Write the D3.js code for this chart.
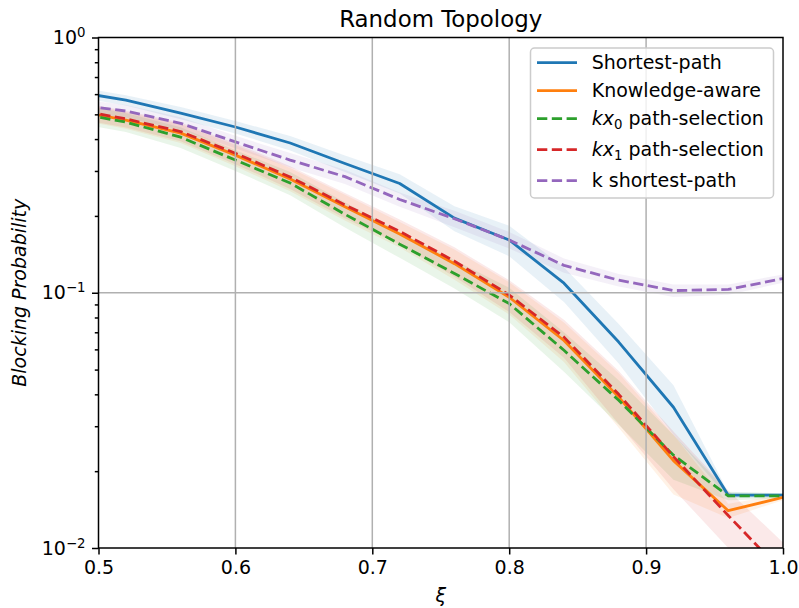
<!DOCTYPE html>
<html>
<meta charset="utf-8">
<head>
  <style>
    body { margin: 0; background: #fff; }
    text { font-family: "DejaVu Sans", sans-serif; fill: #000; }
  </style>
  <script src="https://d3js.org/d3.v7.min.js"></script>
</head>
<body>
<svg id="chart" width="799" height="608"></svg>
<script>
  // x values (xi) -- first point sits left of the axis and gets clipped
  var xi = [0.48, 0.52, 0.56, 0.60, 0.64, 0.68, 0.72, 0.76, 0.80, 0.84, 0.88, 0.92, 0.96, 1.00];

  var shortestPath    = [0.617, 0.568, 0.506, 0.446, 0.386, 0.321, 0.268, 0.196, 0.161, 0.109, 0.0641, 0.0356, 0.0161, 0.0161];
  var shortestPathStd = [0.028, 0.026, 0.028, 0.025, 0.025, 0.024, 0.023, 0.022, 0.022, 0.017, 0.0113, 0.0078, 0.0004, 0.0003];

  var knowledgeAware    = [0.520, 0.475, 0.422, 0.346, 0.279, 0.217, 0.170, 0.130, 0.096, 0.065, 0.039, 0.022, 0.0140, 0.0158];
  var knowledgeAwareStd = [0.039, 0.036, 0.036, 0.033, 0.029, 0.025, 0.0195, 0.0176, 0.0139, 0.0114, 0.0094, 0.0058, 0.0009, 0.0004];

  var kx0    = [0.510, 0.466, 0.407, 0.331, 0.269, 0.203, 0.155, 0.119, 0.0907, 0.0595, 0.0379, 0.0231, 0.0160, 0.0160];
  var kx0Std = [0.043, 0.040, 0.038, 0.031, 0.028, 0.023, 0.018, 0.015, 0.014, 0.0105, 0.0075, 0.0046, 0.0006, 0.0004];

  var kx1    = [0.525, 0.480, 0.428, 0.352, 0.284, 0.221, 0.174, 0.133, 0.098, 0.067, 0.040, 0.0228, 0.0134, 0.0080];
  var kx1Std = [0.039, 0.036, 0.036, 0.033, 0.029, 0.025, 0.0195, 0.0176, 0.0139, 0.0114, 0.0094, 0.0058, 0.0034, 0.0025];

  var kShortest    = [0.548, 0.515, 0.461, 0.390, 0.331, 0.285, 0.232, 0.195, 0.161, 0.128, 0.112, 0.102, 0.103, 0.1137];
  var kShortestStd = [0.031, 0.029, 0.026, 0.022, 0.0215, 0.0185, 0.015, 0.0146, 0.012, 0.0083, 0.0063, 0.0057, 0.0048, 0.0042];

  var xTicks = [0.5, 0.6, 0.7, 0.8, 0.9, 1.0];
  var yMajor = [1e-2, 1e-1, 1e0];
  var yExp   = ["\u22122", "\u22121", "0"];

  var series = [
    {name: "Shortest-path",     sub: null, y: shortestPath,   s: shortestPathStd,   color: "#1f77b4", dash: null},
    {name: "Knowledge-aware",   sub: null, y: knowledgeAware, s: knowledgeAwareStd, color: "#ff7f0e", dash: null},
    {name: " path-selection",   sub: "0",  y: kx0,            s: kx0Std,            color: "#2ca02c", dash: "10.3,4.5"},
    {name: " path-selection",   sub: "1",  y: kx1,            s: kx1Std,            color: "#d62728", dash: "10.3,4.5"},
    {name: "k shortest-path",   sub: null, y: kShortest,      s: kShortestStd,      color: "#9467bd", dash: "10.3,4.5"}
  ];

  (function draw() {
    var pl = 98.5, pr = 783, pt = 37.5, pb = 548;
    var fs = 19;

    var svg = d3.select("#chart");
    var x = d3.scaleLinear().domain([0.5, 1.0]).range([pl, pr]);
    var y = d3.scaleLog().domain([1e-2, 1]).range([pb, pt]);

    svg.append("defs").append("clipPath").attr("id", "clip")
      .append("rect").attr("x", pl).attr("y", pt).attr("width", pr - pl).attr("height", pb - pt);

    var plot = svg.append("g").attr("clip-path", "url(#clip)");

    // bands
    series.forEach(function(s) {
      var pts = xi.map(function(v, i) { return {x: v, lo: Math.max(s.y[i] - s.s[i], 1e-4), hi: s.y[i] + s.s[i]}; });
      var area = d3.area().x(function(d) { return x(d.x); })
        .y0(function(d) { return y(d.lo); }).y1(function(d) { return y(d.hi); });
      plot.append("path").datum(pts).attr("d", area)
        .attr("fill", s.color).attr("fill-opacity", 0.1);
    });

    // grid
    var grid = svg.append("g");
    xTicks.slice(1, -1).forEach(function(t) {
      grid.append("line").attr("x1", x(t)).attr("x2", x(t)).attr("y1", pt).attr("y2", pb)
        .attr("stroke", "#b0b0b0").attr("stroke-width", 1.5);
    });
    grid.append("line").attr("x1", pl).attr("x2", pr).attr("y1", y(0.1)).attr("y2", y(0.1))
      .attr("stroke", "#b0b0b0").attr("stroke-width", 1.5);

    // lines
    series.forEach(function(s) {
      var line = d3.line().x(function(d, i) { return x(xi[i]); }).y(function(d) { return y(d); });
      plot.append("path").datum(s.y).attr("d", line)
        .attr("fill", "none").attr("stroke", s.color).attr("stroke-width", 2.8)
        .attr("stroke-dasharray", s.dash).attr("stroke-linejoin", "round");
    });

    // axes
    var xAxis = d3.axisBottom(x).tickValues(xTicks).tickFormat(d3.format(".1f"))
      .tickSize(6.5).tickPadding(6.5);
    var gx = svg.append("g").attr("transform", "translate(0," + pb + ")").call(xAxis);
    gx.selectAll("text").style("font-size", fs + "px").attr("fill", "#000");

    var minor = y.ticks().filter(function(v) { return Math.abs(Math.log10(v) - Math.round(Math.log10(v))) > 1e-6; });
    var gy = svg.append("g").attr("transform", "translate(" + pl + ",0)");
    gy.append("g").call(d3.axisLeft(y).tickValues(minor).tickFormat("").tickSize(3.7));
    gy.append("g").call(d3.axisLeft(y).tickValues(yMajor).tickFormat("").tickSize(6.5));
    yMajor.forEach(function(v, i) {
      var t = svg.append("text").attr("x", pl - 13).attr("y", y(v) + 6.5)
        .attr("text-anchor", "end").style("font-size", fs + "px");
      t.append("tspan").text("10");
      t.append("tspan").attr("dy", -7).style("font-size", "13.3px").text(yExp[i]);
    });

    svg.selectAll(".domain").remove();
    svg.selectAll(".tick line").attr("stroke", "#000").attr("stroke-width", 1.5);

    // frame
    svg.append("rect").attr("x", pl).attr("y", pt).attr("width", pr - pl).attr("height", pb - pt)
      .attr("fill", "none").attr("stroke", "#000").attr("stroke-width", 1.5);

    // title and labels
    svg.append("text").attr("x", (pl + pr) / 2).attr("y", 27).attr("text-anchor", "middle")
      .style("font-size", "22.9px").text("Random Topology");
    svg.append("text").attr("x", (pl + pr) / 2).attr("y", 602).attr("text-anchor", "middle")
      .style("font-size", fs + "px").style("font-style", "italic").text("\u03be");
    svg.append("text").attr("transform", "translate(26," + ((pt + pb) / 2) + ") rotate(-90)")
      .attr("text-anchor", "middle").style("font-size", fs + "px").style("font-style", "italic")
      .text("Blocking Probability");

    // legend
    var lg = svg.append("g");
    lg.append("rect").attr("x", 530.5).attr("y", 48).attr("width", 243).attr("height", 150).attr("rx", 4)
      .attr("fill", "#fff").attr("fill-opacity", 0.8).attr("stroke", "#cccccc").attr("stroke-width", 1.5);
    var ly = 62.7;
    series.forEach(function(s) {
      lg.append("line").attr("x1", 537).attr("x2", 577).attr("y1", ly).attr("y2", ly)
        .attr("stroke", s.color).attr("stroke-width", 2.8).attr("stroke-dasharray", s.dash);
      var t = lg.append("text").attr("x", 591.7).attr("y", ly + 6.7).style("font-size", fs + "px");
      if (s.sub) {
        t.append("tspan").style("font-style", "italic").text("kx");
        t.append("tspan").attr("dy", 3.5).style("font-size", "13.3px").text(s.sub);
        t.append("tspan").attr("dy", -3.5).text(s.name);
      } else {
        t.text(s.name);
      }
      ly += 28 + (s.sub ? 3 : 0);
    });
  })();
</script>
</body>
</html>
